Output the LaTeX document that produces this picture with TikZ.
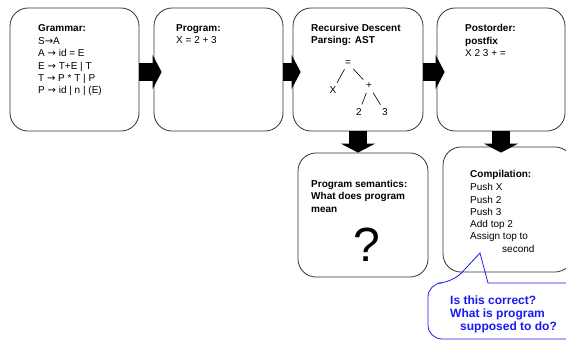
\documentclass[tikz,border=0pt]{standalone}
\usepackage{fontspec}
\setmainfont{Liberation Sans}
\newfontfamily\arrowfont{DejaVu Sans}
\usetikzlibrary{arrows.meta,calc}
\definecolor{noteblue}{RGB}{25,25,240}
\newcommand{\gto}{{\arrowfont\char"2192}}
\tikzset{
 box/.style={draw=black!80,line width=0.8pt,fill=white,rounded corners=18pt,minimum width=129pt,minimum height=123pt,inner sep=0pt},
 txt/.style={anchor=north west,align=left,inner sep=0pt,font=\fontsize{10}{12.3}\selectfont},
 tree/.style={inner sep=1pt,font=\fontsize{10}{12}\selectfont},
 branch/.style={line width=0.6pt,shorten <=3pt,shorten >=3pt},
 blockarrow/.style={line width=18pt,-{Triangle[width=34pt,length=9pt]}},
 note/.style={draw=noteblue,line width=0.8pt}
}
\begin{document}
\begin{tikzpicture}[x=1pt,y=-1pt]
 \useasboundingbox (0,0) rectangle (566,341);
 \clip (0,0) rectangle (566,341);
 \node[box] (gram) at (74.5,69.5) {};
 \node[box] (prog) at (218.5,69.5) {};
 \node[box,minimum width=130pt] (ast) at (358,69.5) {};
 \node[box,minimum width=128pt] (post) at (501,69.5) {};
 \node[box,minimum width=130pt,minimum height=124pt] (sem) at (363,215) {};
 \node[box,minimum width=130pt,minimum height=125pt] (comp) at (508,209.5) {};
 \node[txt] (gramtxt) at (38,24) {\textbf{Grammar:}\\[1pt] S\gto A\\ A \gto{} id = E\\ E \gto{} T+E | T\\ T \gto{} P * T | P\\ P \gto{} id | n | (E)};
 \node[txt] (progtxt) at (176,24.5) {\textbf{Program:}\\ X = 2 + 3};
 \node[txt] (asttxt) at (311,24) {\textbf{Recursive Descent}\\ \textbf{Parsing: AST}};
 \node[txt] (posttxt) at (465,24.5) {\textbf{Postorder:}\\ \textbf{postfix}\\ X 2 3 + =};
 \node[txt] (semtxt) at (311,180) {\textbf{Program semantics:}\\ \textbf{What does program}\\ \textbf{mean}};
 \node[font=\fontsize{48}{48}\selectfont,inner sep=0pt] (qmark) at (367,245) {?};
 \node[txt] (comptxt) at (470,170) {\textbf{Compilation:}\\[1pt] Push X\\ Push 2\\ Push 3\\ Add top 2\\ Assign top to\\ \hspace*{32pt}second};
 \node[tree] (eq) at (348,63) {=};
 \node[tree] (xl) at (333,90) {X};
 \node[tree] (plus) at (369,86) {+};
 \node[tree] (two) at (359,112) {2};
 \node[tree] (three) at (385,112) {3};
 \draw[branch] (eq) -- (xl);
 \draw[branch] (eq) -- (plus);
 \draw[branch] (plus) -- (two);
 \draw[branch] (plus) -- (three);
 \draw[blockarrow] ([yshift=-2.5pt]gram.east) -- ([shift={(8pt,-2.5pt)}]prog.west);
 \draw[blockarrow] ([yshift=-2.5pt]prog.east) -- ([shift={(8pt,-2.5pt)}]ast.west);
 \draw[blockarrow] ([yshift=-2.5pt]ast.east) -- ([shift={(8pt,-2.5pt)}]post.west);
 \draw[blockarrow] (ast.south) -- (ast.south |- sem.north);
 \draw[blockarrow] (post.south) -- ($(post.south |- comp.north)+(0,6)$);
 \coordinate (tip) at (480,253);
 \draw[note] (500,283) [rounded corners=14pt] -- (590,283) -- (590,339) -- (428,339) -- (428,283) -- (452,283) [sharp corners] -- (tip) -- (488,283) -- cycle;
 \node[anchor=north west,align=left,inner sep=0pt,text=noteblue,font=\bfseries\fontsize{12}{13}\selectfont] (notetxt) at (450,296) {Is this correct?\\ What is program\\ \hspace*{10pt}supposed to do?};
\end{tikzpicture}
\end{document}
